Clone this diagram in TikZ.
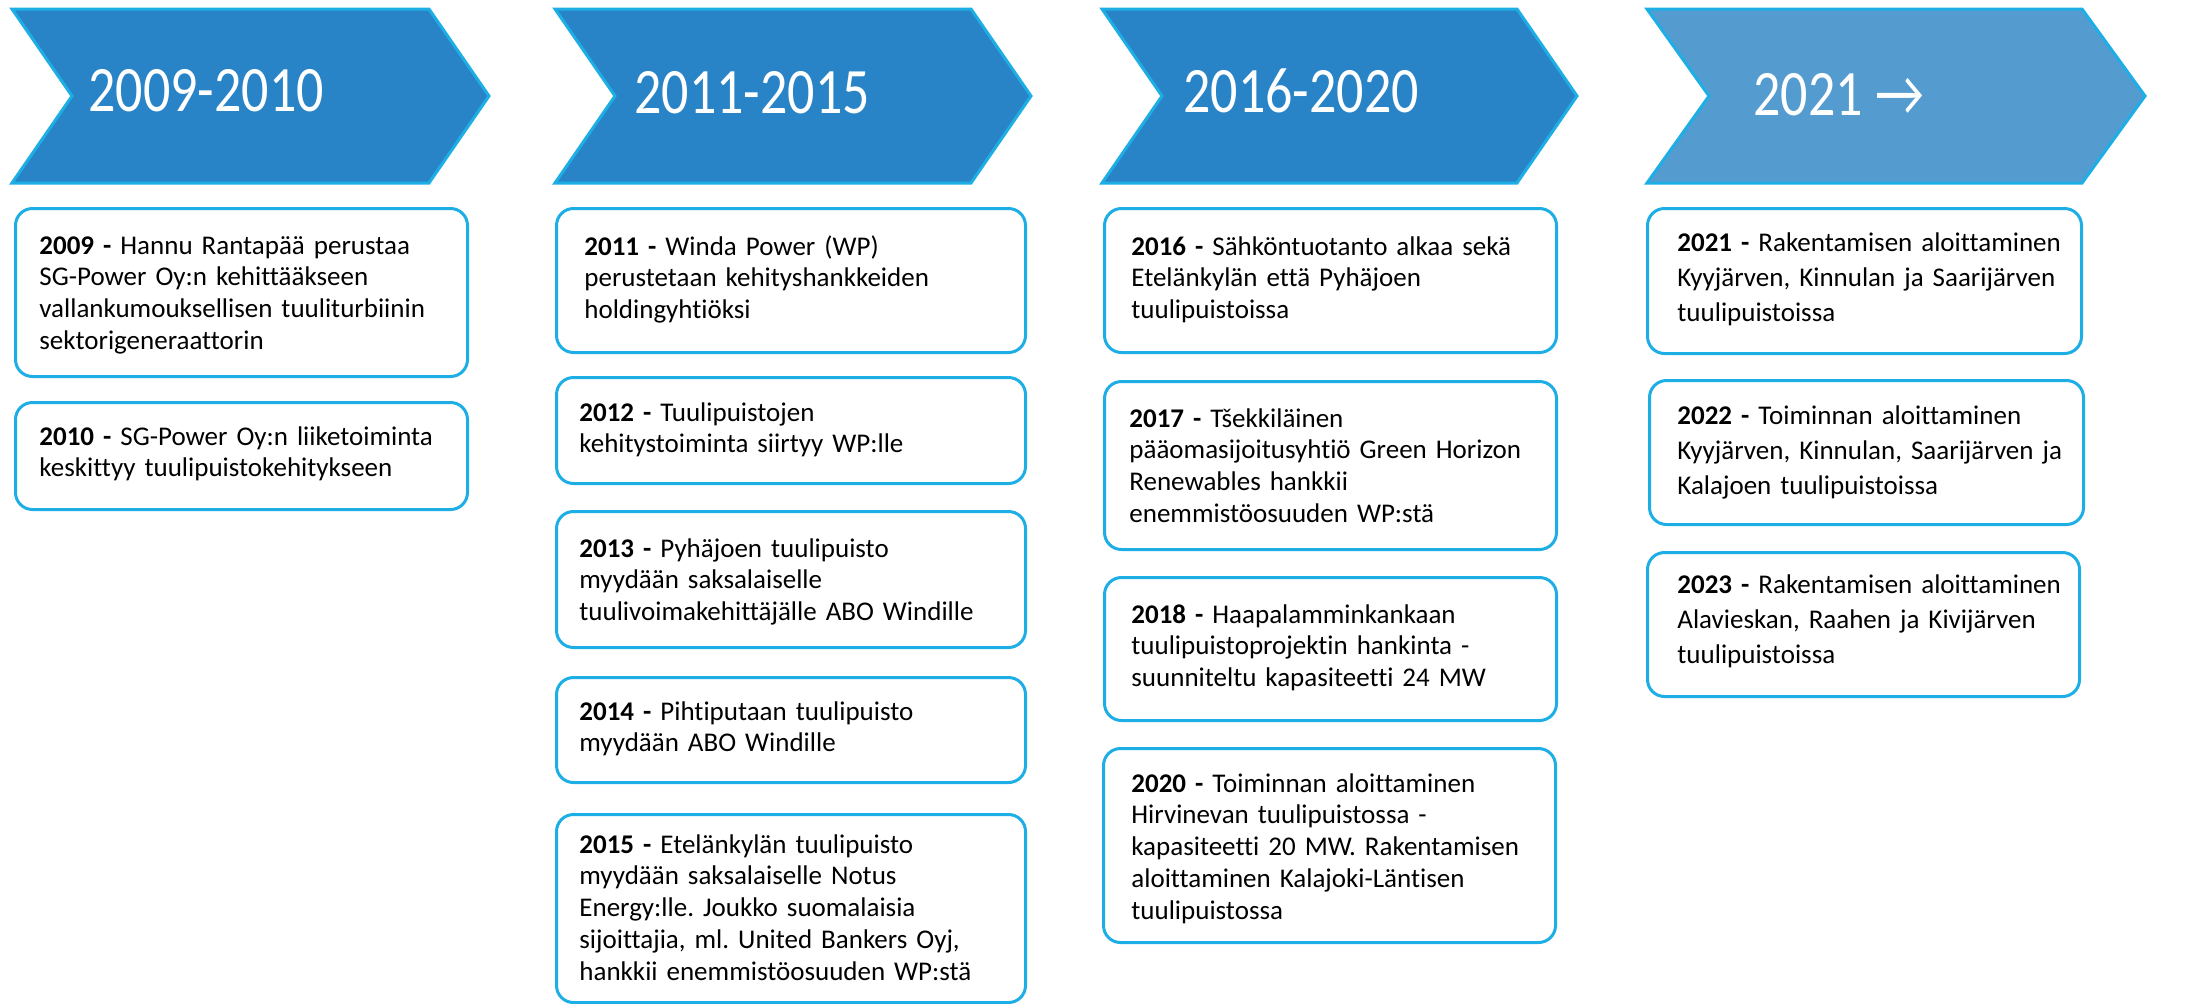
\documentclass[tikz,border=0pt]{standalone}
\usepackage{fontspec}
\usepackage{graphicx}
\setmainfont{Carlito}[Ligatures=NoCommon]
\frenchspacing
\definecolor{chevfill}{HTML}{2884C6}
\definecolor{chevlight}{HTML}{549BD0}
\definecolor{cyanline}{HTML}{1EAEE6}
\tikzset{
  chev/.style={draw=cyanline, line width=1.5pt, fill=chevfill, line join=miter},
  evbox/.style={draw=cyanline, line width=1.5pt, rounded corners=8.5pt, fill=white, inner sep=0pt, anchor=north west},
  evtext/.style={anchor=base west, inner sep=0pt, text width=235pt, align=left, font=\fontsize{13.5}{15.9}\selectfont},
  evtextwide/.style={evtext, font=\fontsize{13.5}{17.5}\selectfont},
  head/.style={anchor=base west, inner sep=0pt, text=white, font=\fontsize{27}{30}\selectfont},
}
\newcommand{\evb}[5]{\node[evbox, minimum width={(#4-#2)*0.5pt}, minimum height={(#5-#3)*0.5pt}] (#1) at (#2,#3) {};}
\begin{document}
\begin{tikzpicture}[x=0.5pt,y=-0.5pt]
\useasboundingbox (0,0) rectangle (2204,1003);
% chevrons
\draw[chev] (12,9) -- (429,9) -- (489,96) -- (429,183) -- (12,183) -- (72,96) -- cycle;
\draw[chev] (555,9) -- (971,9) -- (1031,96) -- (971,183) -- (555,183) -- (615,96) -- cycle;
\draw[chev] (1102,9) -- (1517,9) -- (1577,96) -- (1517,183) -- (1102,183) -- (1162,96) -- cycle;
\draw[chev, fill=chevlight] (1647,9) -- (2082,9) -- (2145,96) -- (2082,183) -- (1647,183) -- (1709,96) -- cycle;
\node[head] (h1) at (88,111) {\scalebox{1}[1.2]{2009-2010}};
\node[head] (h2) at (634,113) {\scalebox{1}[1.2]{2011-2015}};
\node[head] (h3) at (1183,112) {\scalebox{1}[1.2]{2016-2020}};
\node[head] (h4) at (1753,115) {\scalebox{1}[1.2]{2021 →}};
% column 1
\evb{b1}{14}{207}{466}{375}
\evb{b2}{14}{401}{466}{508}
\node[evtext] (t1) at (39,254) {\textbf{2009 -} Hannu Rantapää perustaa\\SG-Power Oy:n kehittääkseen\\vallankumouksellisen tuuliturbiinin\\sektorigeneraattorin};
\node[evtext] (t2) at (39,445) {\textbf{2010 -} SG-Power Oy:n liiketoiminta\\keskittyy tuulipuistokehitykseen};
% column 2
\evb{b3}{555}{207}{1024}{351}
\evb{b4}{555}{376}{1024}{482}
\evb{b5}{555}{510}{1024}{646}
\evb{b6}{555}{676}{1024}{781}
\evb{b7}{555}{813}{1024}{1001}
\node[evtext] (t3) at (584,255) {\textbf{2011 -} Winda Power (WP)\\perustetaan kehityshankkeiden\\holdingyhtiöksi};
\node[evtext] (t4) at (579,421) {\textbf{2012 -} Tuulipuistojen\\kehitystoiminta siirtyy WP:lle};
\node[evtext] (t5) at (579,557) {\textbf{2013 -} Pyhäjoen tuulipuisto\\myydään saksalaiselle\\tuulivoimakehittäjälle ABO Windille};
\node[evtext] (t6) at (579,720) {\textbf{2014 -} Pihtiputaan tuulipuisto\\myydään ABO Windille};
\node[evtext] (t7) at (579,853) {\textbf{2015 -} Etelänkylän tuulipuisto\\myydään saksalaiselle Notus\\Energy:lle. Joukko suomalaisia\\sijoittajia, ml. United Bankers Oyj,\\hankkii enemmistöosuuden WP:stä};
% column 3
\evb{b8}{1103}{207}{1555}{351}
\evb{b9}{1103}{380}{1555}{548}
\evb{b10}{1103}{576}{1555}{719}
\evb{b11}{1102}{747}{1554}{941}
\node[evtext] (t8) at (1131,255) {\textbf{2016 -} Sähköntuotanto alkaa sekä\\Etelänkylän että Pyhäjoen\\tuulipuistoissa};
\node[evtext] (t9) at (1129,427) {\textbf{2017 -} Tšekkiläinen\\pääomasijoitusyhtiö Green Horizon\\Renewables hankkii\\enemmistöosuuden WP:stä};
\node[evtext] (t10) at (1131,623) {\textbf{2018 -} Haapalamminkankaan\\tuulipuistoprojektin hankinta -\\suunniteltu kapasiteetti 24 MW};
\node[evtext] (t11) at (1131,792) {\textbf{2020 -} Toiminnan aloittaminen\\Hirvinevan tuulipuistossa -\\kapasiteetti 20 MW. Rakentamisen\\aloittaminen Kalajoki-Läntisen\\tuulipuistossa};
% column 4
\evb{b12}{1646}{207}{2080}{352}
\evb{b13}{1648}{379}{2082}{523}
\evb{b14}{1646}{551}{2078}{695}
\node[evtextwide] (t12) at (1677,251) {\textbf{2021 -} Rakentamisen aloittaminen\\Kyyjärven, Kinnulan ja Saarijärven\\tuulipuistoissa};
\node[evtextwide] (t13) at (1677,424) {\textbf{2022 -} Toiminnan aloittaminen\\Kyyjärven, Kinnulan, Saarijärven ja\\Kalajoen tuulipuistoissa};
\node[evtextwide] (t14) at (1677,593) {\textbf{2023 -} Rakentamisen aloittaminen\\Alavieskan, Raahen ja Kivijärven\\tuulipuistoissa};
\end{tikzpicture}
\end{document}
